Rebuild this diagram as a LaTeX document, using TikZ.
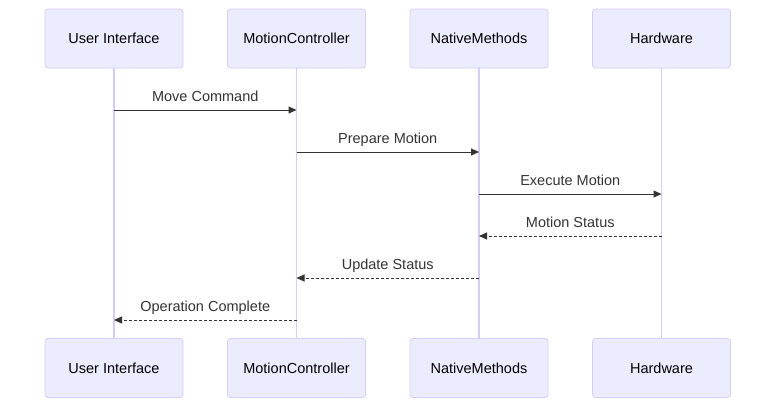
\documentclass[tikz,border=0pt]{standalone}
\usepackage{fontspec}
\setmainfont{Liberation Sans}
\usepackage{xcolor}
\usetikzlibrary{arrows.meta,positioning}
\definecolor{actfill}{HTML}{ECECFF}
\definecolor{actline}{HTML}{D7CCF5}
\definecolor{msgcol}{HTML}{333333}

\begin{document}
\begin{tikzpicture}[x=1pt, y=-1pt,
  actor/.style={rectangle, rounded corners=3pt, draw=actline, fill=actfill,
    line width=0.8pt, minimum width=138pt, minimum height=59pt,
    font=\fontsize{14.5}{17}\selectfont, text=black},
  life/.style={draw=actline, line width=1.2pt},
  msg/.style={-{Triangle[length=8pt,width=7pt]}, draw=msgcol, line width=1pt},
  reply/.style={msg, dash pattern=on 3pt off 2pt},
  lbl/.style={font=\fontsize{14.5}{17}\selectfont, text=msgcol, anchor=base,
    yshift=9pt, inner sep=0pt}
]
\useasboundingbox (0,0) rectangle (784,413);
% Participants (top)
\node[actor] (ui)  at (114,38.5)   {User Interface};
\node[actor] (mc)  at (296.5,38.5) {MotionController};
\node[actor] (nm)  at (479,38.5)   {NativeMethods};
\node[actor] (hw)  at (661.5,38.5) {Hardware};
% Participants (bottom)
\node[actor] (uib) at (114,368)   {User Interface};
\node[actor] (mcb) at (296.5,368) {MotionController};
\node[actor] (nmb) at (479,368)   {NativeMethods};
\node[actor] (hwb) at (661.5,368) {Hardware};
% Lifelines
\draw[life] (ui) -- (uib);
\draw[life] (mc) -- (mcb);
\draw[life] (nm) -- (nmb);
\draw[life] (hw) -- (hwb);
% Message rows
\coordinate (r1) at (0,110);
\coordinate (r2) at (0,152);
\coordinate (r3) at (0,194);
\coordinate (r4) at (0,236);
\coordinate (r5) at (0,278);
\coordinate (r6) at (0,320);
% Calls
\draw[msg] (ui |- r1) -- node[lbl] {Move Command} (mc |- r1);
\draw[msg] (mc |- r2) -- node[lbl] {Prepare Motion} (nm |- r2);
\draw[msg] (nm |- r3) -- node[lbl] {Execute Motion} (hw |- r3);
% Replies
\draw[reply] (hw |- r4) -- node[lbl] {Motion Status} (nm |- r4);
\draw[reply] (nm |- r5) -- node[lbl] {Update Status} (mc |- r5);
\draw[reply] (mc |- r6) -- node[lbl] {Operation Complete} (ui |- r6);
\end{tikzpicture}
\end{document}
